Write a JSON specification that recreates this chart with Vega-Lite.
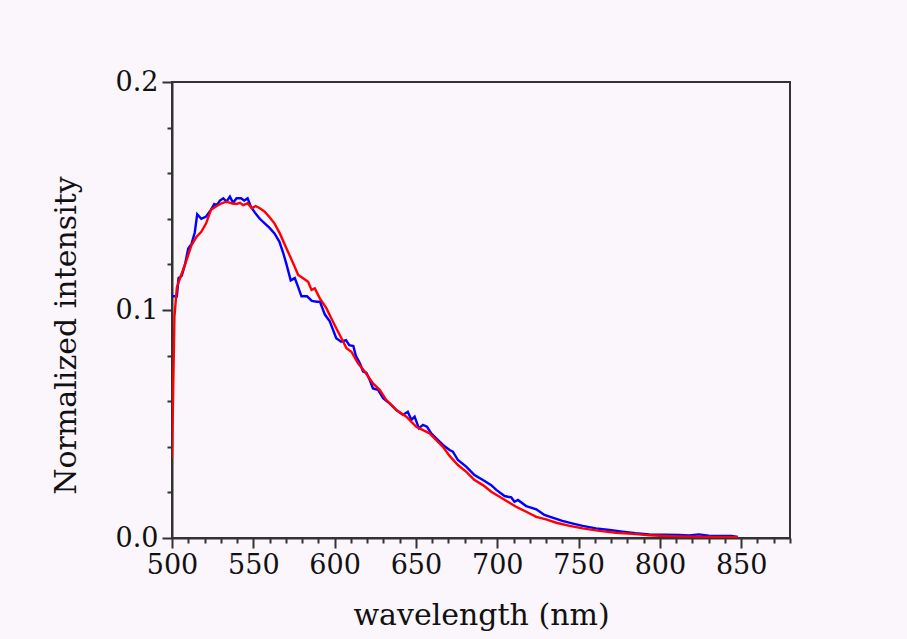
{
  "$schema": "https://vega.github.io/schema/vega-lite/v6.json",
  "width": 618,
  "height": 456,
  "autosize": "none",
  "padding": {"left": 172, "top": 82, "right": 117, "bottom": 101},
  "background": "#fbf5fc",
  "config": {
    "view": {"stroke": "#333333", "strokeWidth": 2},
    "axis": {
      "grid": false,
      "domainColor": "#333333",
      "domainWidth": 2,
      "tickColor": "#333333",
      "tickWidth": 2,
      "labelColor": "#111111",
      "labelFont": "DejaVu Serif",
      "labelFontSize": 27,
      "titleFont": "DejaVu Serif",
      "titleFontSize": 30,
      "titleFontWeight": "normal",
      "titleColor": "#111111"
    }
  },
  "datasets": {
    "spectra": [
      {"nm": 500, "intensity": 0.106, "series": "blue"},
      {"nm": 503, "intensity": 0.106, "series": "blue"},
      {"nm": 504, "intensity": 0.114, "series": "blue"},
      {"nm": 506, "intensity": 0.115, "series": "blue"},
      {"nm": 508, "intensity": 0.120, "series": "blue"},
      {"nm": 510, "intensity": 0.127, "series": "blue"},
      {"nm": 512, "intensity": 0.129, "series": "blue"},
      {"nm": 514, "intensity": 0.134, "series": "blue"},
      {"nm": 515.5, "intensity": 0.142, "series": "blue"},
      {"nm": 518, "intensity": 0.140, "series": "blue"},
      {"nm": 521, "intensity": 0.141, "series": "blue"},
      {"nm": 524, "intensity": 0.144, "series": "blue"},
      {"nm": 526, "intensity": 0.1465, "series": "blue"},
      {"nm": 527.5, "intensity": 0.146, "series": "blue"},
      {"nm": 529.5, "intensity": 0.148, "series": "blue"},
      {"nm": 531.5, "intensity": 0.149, "series": "blue"},
      {"nm": 533.5, "intensity": 0.1475, "series": "blue"},
      {"nm": 535.6, "intensity": 0.1497, "series": "blue"},
      {"nm": 537.6, "intensity": 0.147, "series": "blue"},
      {"nm": 539.7, "intensity": 0.149, "series": "blue"},
      {"nm": 542.4, "intensity": 0.149, "series": "blue"},
      {"nm": 544.4, "intensity": 0.148, "series": "blue"},
      {"nm": 546.5, "intensity": 0.149, "series": "blue"},
      {"nm": 548.5, "intensity": 0.1453, "series": "blue"},
      {"nm": 551, "intensity": 0.1427, "series": "blue"},
      {"nm": 554, "intensity": 0.140, "series": "blue"},
      {"nm": 557, "intensity": 0.138, "series": "blue"},
      {"nm": 560, "intensity": 0.136, "series": "blue"},
      {"nm": 563, "intensity": 0.1336, "series": "blue"},
      {"nm": 566, "intensity": 0.130, "series": "blue"},
      {"nm": 568.4, "intensity": 0.125, "series": "blue"},
      {"nm": 570.4, "intensity": 0.120, "series": "blue"},
      {"nm": 573, "intensity": 0.113, "series": "blue"},
      {"nm": 575.5, "intensity": 0.114, "series": "blue"},
      {"nm": 577.6, "intensity": 0.110, "series": "blue"},
      {"nm": 579.6, "intensity": 0.106, "series": "blue"},
      {"nm": 583, "intensity": 0.106, "series": "blue"},
      {"nm": 586, "intensity": 0.104, "series": "blue"},
      {"nm": 589, "intensity": 0.1036, "series": "blue"},
      {"nm": 591, "intensity": 0.1036, "series": "blue"},
      {"nm": 594, "intensity": 0.098, "series": "blue"},
      {"nm": 597, "intensity": 0.095, "series": "blue"},
      {"nm": 601, "intensity": 0.0876, "series": "blue"},
      {"nm": 604, "intensity": 0.0861, "series": "blue"},
      {"nm": 607, "intensity": 0.0868, "series": "blue"},
      {"nm": 609, "intensity": 0.0846, "series": "blue"},
      {"nm": 611.5, "intensity": 0.0842, "series": "blue"},
      {"nm": 613, "intensity": 0.080, "series": "blue"},
      {"nm": 615.5, "intensity": 0.0766, "series": "blue"},
      {"nm": 617.5, "intensity": 0.073, "series": "blue"},
      {"nm": 619.5, "intensity": 0.0725, "series": "blue"},
      {"nm": 621.6, "intensity": 0.0693, "series": "blue"},
      {"nm": 623.6, "intensity": 0.0656, "series": "blue"},
      {"nm": 626.7, "intensity": 0.065, "series": "blue"},
      {"nm": 629.8, "intensity": 0.0613, "series": "blue"},
      {"nm": 633.9, "intensity": 0.059, "series": "blue"},
      {"nm": 638, "intensity": 0.0561, "series": "blue"},
      {"nm": 642, "intensity": 0.054, "series": "blue"},
      {"nm": 645, "intensity": 0.0554, "series": "blue"},
      {"nm": 647.2, "intensity": 0.0518, "series": "blue"},
      {"nm": 649.2, "intensity": 0.0532, "series": "blue"},
      {"nm": 651.8, "intensity": 0.0481, "series": "blue"},
      {"nm": 654.3, "intensity": 0.0496, "series": "blue"},
      {"nm": 656.8, "intensity": 0.0488, "series": "blue"},
      {"nm": 659.4, "intensity": 0.0459, "series": "blue"},
      {"nm": 662.5, "intensity": 0.0437, "series": "blue"},
      {"nm": 666.6, "intensity": 0.0408, "series": "blue"},
      {"nm": 670.7, "intensity": 0.0386, "series": "blue"},
      {"nm": 672.7, "intensity": 0.0379, "series": "blue"},
      {"nm": 675.8, "intensity": 0.0342, "series": "blue"},
      {"nm": 680.9, "intensity": 0.0313, "series": "blue"},
      {"nm": 686, "intensity": 0.0276, "series": "blue"},
      {"nm": 691.2, "intensity": 0.0254, "series": "blue"},
      {"nm": 696.3, "intensity": 0.0232, "series": "blue"},
      {"nm": 699.4, "intensity": 0.0211, "series": "blue"},
      {"nm": 704.5, "intensity": 0.0184, "series": "blue"},
      {"nm": 708.6, "intensity": 0.0178, "series": "blue"},
      {"nm": 710.6, "intensity": 0.0159, "series": "blue"},
      {"nm": 712.7, "intensity": 0.0167, "series": "blue"},
      {"nm": 717.8, "intensity": 0.014, "series": "blue"},
      {"nm": 724, "intensity": 0.0126, "series": "blue"},
      {"nm": 729, "intensity": 0.0101, "series": "blue"},
      {"nm": 734, "intensity": 0.0089, "series": "blue"},
      {"nm": 740, "intensity": 0.0075, "series": "blue"},
      {"nm": 746, "intensity": 0.0064, "series": "blue"},
      {"nm": 752.5, "intensity": 0.0053, "series": "blue"},
      {"nm": 760.7, "intensity": 0.0042, "series": "blue"},
      {"nm": 769, "intensity": 0.0035, "series": "blue"},
      {"nm": 777, "intensity": 0.0028, "series": "blue"},
      {"nm": 785, "intensity": 0.0021, "series": "blue"},
      {"nm": 793.5, "intensity": 0.0016, "series": "blue"},
      {"nm": 803, "intensity": 0.0014, "series": "blue"},
      {"nm": 812, "intensity": 0.0013, "series": "blue"},
      {"nm": 818, "intensity": 0.0011, "series": "blue"},
      {"nm": 824, "intensity": 0.0016, "series": "blue"},
      {"nm": 830, "intensity": 0.001, "series": "blue"},
      {"nm": 838, "intensity": 0.0009, "series": "blue"},
      {"nm": 844, "intensity": 0.0009, "series": "blue"},
      {"nm": 848, "intensity": 0.0005, "series": "blue"},
      {"nm": 500, "intensity": 0.035, "series": "red"},
      {"nm": 501.5, "intensity": 0.097, "series": "red"},
      {"nm": 503, "intensity": 0.110, "series": "red"},
      {"nm": 506, "intensity": 0.116, "series": "red"},
      {"nm": 509, "intensity": 0.122, "series": "red"},
      {"nm": 512, "intensity": 0.1285, "series": "red"},
      {"nm": 515, "intensity": 0.132, "series": "red"},
      {"nm": 518, "intensity": 0.1343, "series": "red"},
      {"nm": 521, "intensity": 0.138, "series": "red"},
      {"nm": 524, "intensity": 0.144, "series": "red"},
      {"nm": 527.5, "intensity": 0.1456, "series": "red"},
      {"nm": 530.5, "intensity": 0.1468, "series": "red"},
      {"nm": 533.6, "intensity": 0.1475, "series": "red"},
      {"nm": 536.6, "intensity": 0.1468, "series": "red"},
      {"nm": 539.7, "intensity": 0.1465, "series": "red"},
      {"nm": 541.8, "intensity": 0.147, "series": "red"},
      {"nm": 543.8, "intensity": 0.146, "series": "red"},
      {"nm": 546.5, "intensity": 0.1468, "series": "red"},
      {"nm": 549, "intensity": 0.1446, "series": "red"},
      {"nm": 551.4, "intensity": 0.1456, "series": "red"},
      {"nm": 554, "intensity": 0.1446, "series": "red"},
      {"nm": 557, "intensity": 0.1431, "series": "red"},
      {"nm": 560, "intensity": 0.1407, "series": "red"},
      {"nm": 563, "intensity": 0.138, "series": "red"},
      {"nm": 566.3, "intensity": 0.1336, "series": "red"},
      {"nm": 570.4, "intensity": 0.127, "series": "red"},
      {"nm": 574.5, "intensity": 0.1205, "series": "red"},
      {"nm": 577.6, "intensity": 0.1154, "series": "red"},
      {"nm": 580.6, "intensity": 0.1139, "series": "red"},
      {"nm": 583.7, "intensity": 0.1124, "series": "red"},
      {"nm": 585.8, "intensity": 0.1088, "series": "red"},
      {"nm": 587.8, "intensity": 0.1095, "series": "red"},
      {"nm": 590.9, "intensity": 0.1051, "series": "red"},
      {"nm": 595, "intensity": 0.1007, "series": "red"},
      {"nm": 598, "intensity": 0.0963, "series": "red"},
      {"nm": 601, "intensity": 0.092, "series": "red"},
      {"nm": 604.2, "intensity": 0.0876, "series": "red"},
      {"nm": 607.3, "intensity": 0.0832, "series": "red"},
      {"nm": 610.3, "intensity": 0.0817, "series": "red"},
      {"nm": 614.4, "intensity": 0.0766, "series": "red"},
      {"nm": 618.5, "intensity": 0.073, "series": "red"},
      {"nm": 623.6, "intensity": 0.0678, "series": "red"},
      {"nm": 627.7, "intensity": 0.065, "series": "red"},
      {"nm": 631.8, "intensity": 0.0605, "series": "red"},
      {"nm": 638, "intensity": 0.0561, "series": "red"},
      {"nm": 644.1, "intensity": 0.0532, "series": "red"},
      {"nm": 650.2, "intensity": 0.0488, "series": "red"},
      {"nm": 658.4, "intensity": 0.0459, "series": "red"},
      {"nm": 666.6, "intensity": 0.040, "series": "red"},
      {"nm": 670.7, "intensity": 0.036, "series": "red"},
      {"nm": 675.8, "intensity": 0.032, "series": "red"},
      {"nm": 681, "intensity": 0.029, "series": "red"},
      {"nm": 686, "intensity": 0.0254, "series": "red"},
      {"nm": 691.2, "intensity": 0.0232, "series": "red"},
      {"nm": 696.3, "intensity": 0.0203, "series": "red"},
      {"nm": 701.4, "intensity": 0.0181, "series": "red"},
      {"nm": 706.5, "intensity": 0.0159, "series": "red"},
      {"nm": 711.6, "intensity": 0.0137, "series": "red"},
      {"nm": 717.8, "intensity": 0.0115, "series": "red"},
      {"nm": 724, "intensity": 0.0093, "series": "red"},
      {"nm": 730, "intensity": 0.0082, "series": "red"},
      {"nm": 736.3, "intensity": 0.0067, "series": "red"},
      {"nm": 744.5, "intensity": 0.0053, "series": "red"},
      {"nm": 752.5, "intensity": 0.0042, "series": "red"},
      {"nm": 762.8, "intensity": 0.0031, "series": "red"},
      {"nm": 773, "intensity": 0.0023, "series": "red"},
      {"nm": 783.3, "intensity": 0.0018, "series": "red"},
      {"nm": 793.5, "intensity": 0.0012, "series": "red"},
      {"nm": 803, "intensity": 0.0009, "series": "red"},
      {"nm": 812, "intensity": 0.0007, "series": "red"},
      {"nm": 830, "intensity": 0.0005, "series": "red"},
      {"nm": 848, "intensity": 0.0003, "series": "red"}
    ]
  },
  "data": {"name": "spectra"},
  "layer": [
    {
      "transform": [{"filter": "datum.series === 'blue'"}],
      "mark": {"type": "line", "color": "#0000ff", "strokeWidth": 2.4, "clip": true},
      "encoding": {
        "x": {
          "field": "nm", "type": "quantitative",
          "scale": {"domain": [500, 880], "nice": false, "zero": false},
          "axis": {
            "orient": "bottom",
            "title": "wavelength (nm)",
            "values": [500, 550, 600, 650, 700, 750, 800, 850],
            "tickSize": 10,
            "labelPadding": 4,
            "titlePadding": 22,
            "labelFlush": false
          }
        },
        "y": {
          "field": "intensity", "type": "quantitative",
          "scale": {"domain": [0, 0.2], "nice": false},
          "axis": {
            "orient": "left",
            "title": "Normalized intensity",
            "values": [0, 0.1, 0.2],
            "format": ".1f",
            "tickSize": 10,
            "labelPadding": 4,
            "titlePadding": 34,
            "titleY": 253,
            "labelFlush": false
          }
        }
      }
    },
    {
      "transform": [{"filter": "datum.series === 'red'"}],
      "mark": {"type": "line", "color": "#ff0000", "strokeWidth": 2.4, "clip": true},
      "encoding": {
        "x": {
          "field": "nm", "type": "quantitative",
          "scale": {"domain": [500, 880], "nice": false, "zero": false},
          "axis": {
            "orient": "bottom",
            "title": null,
            "labels": false,
            "domain": false,
            "values": [510, 520, 530, 540, 560, 570, 580, 590, 610, 620, 630, 640, 660, 670, 680, 690, 710, 720, 730, 740, 760, 770, 780, 790, 810, 820, 830, 840, 860, 870, 880],
            "tickSize": 5
          }
        },
        "y": {
          "field": "intensity", "type": "quantitative",
          "scale": {"domain": [0, 0.2], "nice": false},
          "axis": {
            "orient": "left",
            "title": null,
            "labels": false,
            "domain": false,
            "values": [0.02, 0.04, 0.06, 0.08, 0.12, 0.14, 0.16, 0.18],
            "tickSize": 5
          }
        }
      }
    }
  ],
  "resolve": {"axis": {"x": "independent", "y": "independent"}}
}
